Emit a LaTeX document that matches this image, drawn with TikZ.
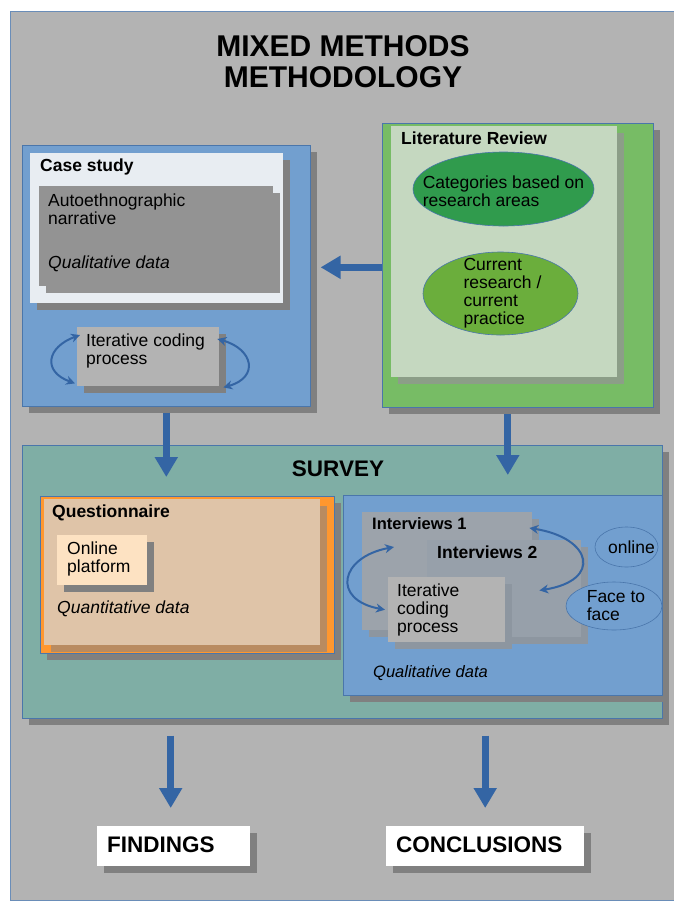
\documentclass[tikz,border=0pt]{standalone}
\usepackage{fontspec}
\setmainfont{Liberation Sans}
\usetikzlibrary{arrows.meta,shadows,shapes.geometric}

\definecolor{bggrey}{HTML}{B3B3B3}
\definecolor{frameblue}{HTML}{6A8DB8}
\definecolor{edgeblue}{HTML}{4A76AB}
\definecolor{arrowblue}{HTML}{3465A4}
\definecolor{shadowgrey}{HTML}{808080}
\definecolor{csblue}{HTML}{729FCF}
\definecolor{caseinner}{HTML}{E8EDF2}
\definecolor{narrgrey}{HTML}{939393}
\definecolor{litgreen}{HTML}{77BC65}
\definecolor{litinner}{HTML}{C5D8C0}
\definecolor{litshade}{HTML}{8C9E88}
\definecolor{ellgreenA}{HTML}{309B4D}
\definecolor{ellgreenB}{HTML}{6BAE3C}
\definecolor{surveyteal}{HTML}{7FAEA5}
\definecolor{qorange}{HTML}{FF972F}
\definecolor{qtan}{HTML}{DFC4A8}
\definecolor{qshade}{HTML}{B98B60}
\definecolor{peach}{HTML}{FDE2C2}
\definecolor{intgreyA}{HTML}{9CA3AB}
\definecolor{intgreyB}{HTML}{97A0AA}
\definecolor{intshade}{HTML}{8D96A0}

\begin{document}
\begin{tikzpicture}[x=1pt, y=-1pt,
    shadowed/.style={drop shadow={shadow xshift=7pt, shadow yshift=-7pt, fill=#1, opacity=1}},
    shadowed/.default=shadowgrey,
    box/.style={draw=edgeblue, line width=0.6pt, anchor=north west, inner sep=0pt},
    flat/.style={anchor=north west, inner sep=0pt},
    oval/.style={ellipse, draw=edgeblue, line width=0.6pt, inner sep=0pt},
    txt/.style={anchor=base west, inner sep=0pt, align=left, font=\fontsize{17.5}{18}\selectfont},
    head/.style={txt, font=\fontsize{17.5}{18}\selectfont\bfseries},
    note/.style={txt, font=\fontsize{17.5}{18}\selectfont\itshape},
    caps/.style={txt, font=\fontsize{22.5}{24}\selectfont\bfseries},
    bigarrow/.style={draw=arrowblue, line width=7pt, -{Triangle[width=22pt,length=20pt]}},
    twoway/.style={draw=arrowblue, line width=2pt, {Stealth[length=9pt,width=9pt]}-{Stealth[length=9pt,width=9pt]}}]
  % 1 unit = 1 px of the 673x903 sheet, y grows downwards
  % multi-line texts: base = baseline of their last line
  \useasboundingbox (0,0) rectangle (673,903);
  \fill[white] (0,0) rectangle (673,903);
  \draw[draw=frameblue, fill=bggrey, line width=0.8pt] (10,11) rectangle (676,900);
  \node[font=\fontsize{30}{31}\selectfont\bfseries, align=center, anchor=base] (title) at (343,87)
    {MIXED METHODS\\METHODOLOGY};

  % case study
  \node[box, shadowed, fill=csblue, minimum width=288pt, minimum height=261pt] (casestudy) at (22,145) {};
  \node[flat, shadowed, fill=caseinner, minimum width=253pt, minimum height=150pt] (csinner) at (30,153) {};
  \node[flat, shadowed=gray!85, fill=narrgrey, minimum width=234pt, minimum height=100pt] (narrbox) at (39,186) {};
  \node[head] (cslabel) at (40,171) {Case study};
  \node[txt] (narrtext) at (48,224) {Autoethnographic\\narrative};
  \node[note] (csdata) at (48,268) {Qualitative data};
  \node[flat, shadowed, fill=bggrey, minimum width=142pt, minimum height=59pt] (iterA) at (77,327) {};
  \node[txt] (iterAtext) at (86,364) {Iterative coding\\process};
  \draw[twoway] ([shift={(3,8)}]iterA.north west) .. controls +(-33,12) and +(-33,-12) .. ([shift={(-2,-3)}]iterA.south west);
  \draw[twoway] ([shift={(-2,12)}]iterA.north east) .. controls +(36,10) and +(36,-10) .. ([shift={(4,1)}]iterA.south east);

  % literature review
  \node[box, shadowed, fill=litgreen, minimum width=271pt, minimum height=284pt] (lit) at (382,123) {};
  \node[flat, shadowed=litshade, fill=litinner, minimum width=226pt, minimum height=251pt] (litinner) at (391,126) {};
  \node[head] (litlabel) at (401,144) {Literature Review};
  \node[oval, fill=ellgreenA, minimum width=181pt, minimum height=74pt] (catell) at (503.5,189) {};
  \node[txt, anchor=center] (cattext) at ([yshift=-2pt]catell.center) {Categories based on\\research areas};
  \node[oval, fill=ellgreenB, minimum width=155pt, minimum height=83pt] (curell) at (500.5,293.5) {};
  \node[txt, anchor=center] (curtext) at ([xshift=2pt]curell.center) {Current\\research /\\current\\practice};

  \draw[bigarrow] ([yshift=-2pt]lit.west) -- ([xshift=10pt,yshift=-2pt]casestudy.east |- lit.west);

  % survey
  \node[box, shadowed, fill=surveyteal, minimum width=640pt, minimum height=273pt] (survey) at (22,445) {};
  \node[caps, anchor=base] (surveylabel) at (338,476) {SURVEY};
  \draw[bigarrow] ([yshift=-6pt]casestudy.south) -- ([yshift=-32pt]casestudy.south |- survey.north);
  \draw[bigarrow] ([xshift=-10pt,yshift=-6pt]lit.south) -- ([xshift=-10pt,yshift=-30pt]lit.south |- survey.north);

  \node[box, shadowed, fill=qorange, minimum width=294pt, minimum height=157pt] (quest) at (40,496) {};
  \node[flat, shadowed=qshade, fill=qtan, minimum width=276pt, minimum height=146pt] (qinner) at (44,499) {};
  \node[head] (questlabel) at (52,517) {Questionnaire};
  \node[flat, shadowed, fill=peach, minimum width=90pt, minimum height=50pt] (platform) at (57,535) {};
  \node[txt] (platformtext) at (67,572) {Online\\platform};
  \node[note] (questdata) at (57,613) {Quantitative data};

  \node[box, shadowed, fill=csblue, minimum width=319pt, minimum height=200pt] (interv) at (343,495) {};
  \node[flat, shadowed=intshade, fill=intgreyA, minimum width=170pt, minimum height=118pt] (intA) at (362,512) {};
  \node[flat, shadowed=intshade, fill=intgreyB, minimum width=154pt, minimum height=97pt] (intB) at (427,540) {};
  \node[flat, shadowed=intshade, fill=bggrey, minimum width=117pt, minimum height=65pt] (iterB) at (388,577) {};
  \node[head, font=\fontsize{16.5}{18}\selectfont\bfseries] (intAlabel) at (372,529) {Interviews 1};
  \node[head] (intBlabel) at (437,558) {Interviews 2};
  \node[txt] (iterBtext) at (397,632) {Iterative\\coding\\process};
  \draw[twoway] ([shift={(32,35)}]intA.north west) .. controls +(-54,10) and +(-54,-10) .. ([xshift=-3pt]iterB.west);
  \draw[twoway] ([shift={(-3,16)}]intA.north east) .. controls +(63,10) and +(63,-10) .. ([shift={(-42,-47)}]intB.south east);
  \node[note, font=\fontsize{16.5}{18}\selectfont\itshape] (intdata) at (373,677) {Qualitative data};
  \node[oval, fill=csblue, minimum width=63pt, minimum height=40pt] (online) at (626.5,547) {};
  \node[txt, anchor=center] (onlinetext) at ([xshift=5pt]online.center) {online};
  \node[oval, fill=csblue, minimum width=96pt, minimum height=48pt] (face) at (614,606) {};
  \node[txt, anchor=center] (facetext) at ([xshift=2pt]face.center) {Face to\\face};

  % outcomes
  \node[flat, shadowed, fill=white, minimum width=153pt, minimum height=40pt] (findings) at (97,826) {};
  \node[caps] (findingstext) at (107,852) {FINDINGS};
  \node[flat, shadowed, fill=white, minimum width=198pt, minimum height=40pt] (conclusions) at (386,826) {};
  \node[caps] (conclusionstext) at (396,852) {CONCLUSIONS};
  \draw[bigarrow] ([xshift=-3pt,yshift=-17pt]findings.north |- survey.south) -- ([xshift=-3pt,yshift=18pt]findings.north);
  \draw[bigarrow] ([yshift=-17pt]conclusions.north |- survey.south) -- ([yshift=18pt]conclusions.north);
\end{tikzpicture}
\end{document}
